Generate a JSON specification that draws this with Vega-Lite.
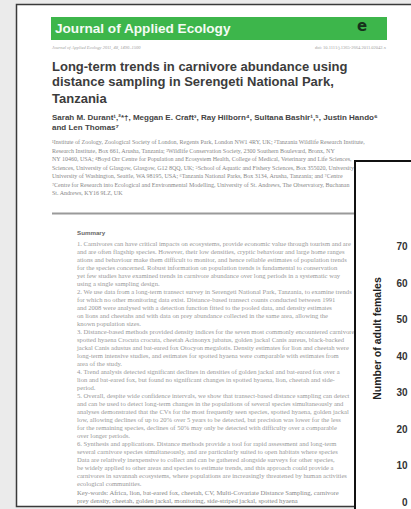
{
  "$schema": "https://vega.github.io/schema/vega-lite/v6.json",
  "width": 411,
  "height": 509,
  "padding": 0,
  "autosize": "none",
  "background": "#ebebeb",
  "config": {"view": {"stroke": null}},
  "datasets": {
    "page": [
      {"kind": "header", "x": 55, "y": 28.5, "text": "Journal of Applied Ecology"},
      {"kind": "logo", "x": 362, "y": 26, "text": "e"},
      {"kind": "subl", "x": 52, "y": 48, "text": "Journal of Applied Ecology 2011, 48, 1490–1500"},
      {"kind": "subr", "x": 386, "y": 48, "text": "doi: 10.1111/j.1365-2664.2011.02042.x"},
      {"kind": "title", "x": 52, "y": 66.7, "text": "Long-term trends in carnivore abundance using"},
      {"kind": "title", "x": 52, "y": 82, "text": "distance sampling in Serengeti National Park,"},
      {"kind": "title", "x": 52, "y": 98.5, "text": "Tanzania"},
      {"kind": "author", "x": 52, "y": 118, "text": "Sarah M. Durant¹,²*†, Meggan E. Craft³, Ray Hilborn⁴, Sultana Bashir¹,⁵, Justin Hando⁶"},
      {"kind": "author", "x": 52, "y": 128, "text": "and Len Thomas⁷"},
      {"kind": "affil", "x": 52, "y": 142, "text": "¹Institute of Zoology, Zoological Society of London, Regents Park, London NW1 4RY, UK; ²Tanzania Wildlife Research Institute,"},
      {"kind": "affil", "x": 52, "y": 150.5, "text": "Research Institute, Box 661, Arusha, Tanzania; ³Wildlife Conservation Society, 2300 Southern Boulevard, Bronx, NY"},
      {"kind": "affil", "x": 52, "y": 159, "text": "NY 10460, USA; ⁴Boyd Orr Centre for Population and Ecosystem Health, College of Medical, Veterinary and Life Sciences,"},
      {"kind": "affil", "x": 52, "y": 167.5, "text": "Sciences, University of Glasgow, Glasgow, G12 8QQ, UK; ⁵School of Aquatic and Fishery Sciences, Box 355020, University"},
      {"kind": "affil", "x": 52, "y": 176, "text": "University of Washington, Seattle, WA 98195, USA; ⁶Tanzania National Parks, Box 3134, Arusha, Tanzania; and ⁷Centre"},
      {"kind": "affil", "x": 52, "y": 184.5, "text": "⁷Centre for Research into Ecological and Environmental Modelling, University of St. Andrews, The Observatory, Buchanan"},
      {"kind": "affil", "x": 52, "y": 193, "text": "St. Andrews, KY16 9LZ, UK"},
      {"kind": "summary", "x": 77, "y": 233, "text": "Summary"},
      {"kind": "body", "x": 77, "y": 244, "text": "1. Carnivores can have critical impacts on ecosystems, provide economic value through tourism and are"},
      {"kind": "body", "x": 77, "y": 252, "text": "and are often flagship species. However, their low densities, cryptic behaviour and large home ranges"},
      {"kind": "body", "x": 77, "y": 260, "text": "ations and behaviour make them difficult to monitor, and hence reliable estimates of population trends"},
      {"kind": "body", "x": 77, "y": 268, "text": "for the species concerned. Robust information on population trends is fundamental to conservation"},
      {"kind": "body", "x": 77, "y": 276, "text": "yet few studies have examined trends in carnivore abundance over long periods in a systematic way"},
      {"kind": "body", "x": 77, "y": 284, "text": "using a single sampling design."},
      {"kind": "body", "x": 77, "y": 292, "text": "2. We use data from a long-term transect survey in Serengeti National Park, Tanzania, to examine trends"},
      {"kind": "body", "x": 77, "y": 300, "text": "for which no other monitoring data exist. Distance-based transect counts conducted between 1991"},
      {"kind": "body", "x": 77, "y": 308, "text": "and 2008 were analysed with a detection function fitted to the pooled data, and density estimates"},
      {"kind": "body", "x": 77, "y": 316, "text": "on lions and cheetahs and with data on prey abundance collected in the same area, allowing the"},
      {"kind": "body", "x": 77, "y": 324, "text": "known population sizes."},
      {"kind": "body", "x": 77, "y": 332, "text": "3. Distance-based methods provided density indices for the seven most commonly encountered carnivore"},
      {"kind": "body", "x": 77, "y": 340, "text": "spotted hyaena Crocuta crocuta, cheetah Acinonyx jubatus, golden jackal Canis aureus, black-backed"},
      {"kind": "body", "x": 77, "y": 348, "text": "jackal Canis adustus and bat-eared fox Otocyon megalotis. Density estimates for lion and cheetah were"},
      {"kind": "body", "x": 77, "y": 356, "text": "long-term intensive studies, and estimates for spotted hyaena were comparable with estimates from"},
      {"kind": "body", "x": 77, "y": 364, "text": "area of the study."},
      {"kind": "body", "x": 77, "y": 372, "text": "4. Trend analysis detected significant declines in densities of golden jackal and bat-eared fox over a"},
      {"kind": "body", "x": 77, "y": 380, "text": "lion and bat-eared fox, but found no significant changes in spotted hyaena, lion, cheetah and side-"},
      {"kind": "body", "x": 77, "y": 388, "text": "period."},
      {"kind": "body", "x": 77, "y": 396, "text": "5. Overall, despite wide confidence intervals, we show that transect-based distance sampling can detect"},
      {"kind": "body", "x": 77, "y": 404, "text": "and can be used to detect long-term changes in the populations of several species simultaneously and"},
      {"kind": "body", "x": 77, "y": 412, "text": "analyses demonstrated that the CVs for the most frequently seen species, spotted hyaena, golden jackal"},
      {"kind": "body", "x": 77, "y": 420, "text": "low, allowing declines of up to 20% over 5 years to be detected, but precision was lower for the less"},
      {"kind": "body", "x": 77, "y": 428, "text": "for the remaining species, declines of 50% may only be detected with difficulty over a comparable"},
      {"kind": "body", "x": 77, "y": 436, "text": "over longer periods."},
      {"kind": "body", "x": 77, "y": 444, "text": "6. Synthesis and applications. Distance methods provide a tool for rapid assessment and long-term"},
      {"kind": "body", "x": 77, "y": 452, "text": "several carnivore species simultaneously, and are particularly suited to open habitats where species"},
      {"kind": "body", "x": 77, "y": 460, "text": "Data are relatively inexpensive to collect and can be gathered alongside surveys for other species,"},
      {"kind": "body", "x": 77, "y": 468, "text": "be widely applied to other areas and species to estimate trends, and this approach could provide a"},
      {"kind": "body", "x": 77, "y": 476, "text": "carnivores in savannah ecosystems, where populations are increasingly threatened by human activities"},
      {"kind": "body", "x": 77, "y": 484, "text": "ecological communities."},
      {"kind": "keywords", "x": 77, "y": 493, "text": "Key-words: Africa, lion, bat-eared fox, cheetah, CV, Multi-Covariate Distance Sampling, carnivore"},
      {"kind": "keywords", "x": 77, "y": 501, "text": "prey density, cheetah, golden jackal, monitoring, side-striped jackal, spotted hyaena"}
    ]
  },
  "resolve": {"scale": {"y": "independent"}},
  "layer": [
    {
      "data": {"values": [{"x": 16.5, "x2": 450, "y": 4.5, "y2": 506.5}]},
      "mark": {"type": "rect", "fill": "#ffffff", "stroke": "#3a3a3a", "strokeWidth": 1.5},
      "encoding": {
        "x": {"field": "x", "type": "quantitative", "scale": {"domain": [0, 411], "nice": false, "zero": false}, "axis": null},
        "x2": {"field": "x2"},
        "y": {"field": "y", "type": "quantitative", "scale": {"domain": [509, 0], "nice": false, "zero": false}, "axis": null},
        "y2": {"field": "y2"}
      }
    },
    {
      "data": {"values": [{"x": 51, "x2": 387, "y": 17, "y2": 40}]},
      "mark": {"type": "rect", "fill": "#3db64b"},
      "encoding": {
        "x": {"field": "x", "type": "quantitative", "scale": {"domain": [0, 411], "nice": false, "zero": false}, "axis": null},
        "x2": {"field": "x2"},
        "y": {"field": "y", "type": "quantitative", "scale": {"domain": [509, 0], "nice": false, "zero": false}, "axis": null},
        "y2": {"field": "y2"}
      }
    },
    {
      "data": {"values": [{"x": 52, "x2": 400, "y": 213.5}]},
      "mark": {"type": "rule", "stroke": "#9a9a9a", "strokeWidth": 2},
      "encoding": {
        "x": {"field": "x", "type": "quantitative", "scale": {"domain": [0, 411], "nice": false, "zero": false}, "axis": null},
        "x2": {"field": "x2"},
        "y": {"field": "y", "type": "quantitative", "scale": {"domain": [509, 0], "nice": false, "zero": false}, "axis": null}
      }
    },
    {
      "data": {"name": "page"},
      "transform": [{"filter": "datum.kind == 'header'"}],
      "mark": {"type": "text", "align": "left", "baseline": "middle", "font": "Liberation Sans", "fontSize": 13.6, "fontWeight": "bold", "fill": "#f4fbf4"},
      "encoding": {
        "x": {"field": "x", "type": "quantitative", "scale": {"domain": [0, 411], "nice": false, "zero": false}, "axis": null},
        "y": {"field": "y", "type": "quantitative", "scale": {"domain": [509, 0], "nice": false, "zero": false}, "axis": null},
        "text": {"field": "text"}
      }
    },
    {
      "data": {"name": "page"},
      "transform": [{"filter": "datum.kind == 'logo'"}],
      "mark": {"type": "text", "align": "center", "baseline": "middle", "font": "DejaVu Sans", "fontSize": 15, "fontWeight": "bold", "fill": "#17301b"},
      "encoding": {
        "x": {"field": "x", "type": "quantitative", "scale": {"domain": [0, 411], "nice": false, "zero": false}, "axis": null},
        "y": {"field": "y", "type": "quantitative", "scale": {"domain": [509, 0], "nice": false, "zero": false}, "axis": null},
        "text": {"field": "text"}
      }
    },
    {
      "data": {"name": "page"},
      "transform": [{"filter": "datum.kind == 'subl'"}],
      "mark": {"type": "text", "align": "left", "baseline": "middle", "font": "Liberation Serif", "fontSize": 4.5, "fontStyle": "italic", "fill": "#a0a0a0"},
      "encoding": {
        "x": {"field": "x", "type": "quantitative", "scale": {"domain": [0, 411], "nice": false, "zero": false}, "axis": null},
        "y": {"field": "y", "type": "quantitative", "scale": {"domain": [509, 0], "nice": false, "zero": false}, "axis": null},
        "text": {"field": "text"}
      }
    },
    {
      "data": {"name": "page"},
      "transform": [{"filter": "datum.kind == 'subr'"}],
      "mark": {"type": "text", "align": "right", "baseline": "middle", "font": "Liberation Serif", "fontSize": 4.5, "fill": "#a0a0a0"},
      "encoding": {
        "x": {"field": "x", "type": "quantitative", "scale": {"domain": [0, 411], "nice": false, "zero": false}, "axis": null},
        "y": {"field": "y", "type": "quantitative", "scale": {"domain": [509, 0], "nice": false, "zero": false}, "axis": null},
        "text": {"field": "text"}
      }
    },
    {
      "data": {"name": "page"},
      "transform": [{"filter": "datum.kind == 'title'"}],
      "mark": {"type": "text", "align": "left", "baseline": "middle", "font": "Liberation Sans", "fontSize": 13, "fontWeight": "bold", "fill": "#3c3c3c"},
      "encoding": {
        "x": {"field": "x", "type": "quantitative", "scale": {"domain": [0, 411], "nice": false, "zero": false}, "axis": null},
        "y": {"field": "y", "type": "quantitative", "scale": {"domain": [509, 0], "nice": false, "zero": false}, "axis": null},
        "text": {"field": "text"}
      }
    },
    {
      "data": {"name": "page"},
      "transform": [{"filter": "datum.kind == 'author'"}],
      "mark": {"type": "text", "align": "left", "baseline": "middle", "font": "Liberation Sans", "fontSize": 8, "fontWeight": "bold", "fill": "#444444"},
      "encoding": {
        "x": {"field": "x", "type": "quantitative", "scale": {"domain": [0, 411], "nice": false, "zero": false}, "axis": null},
        "y": {"field": "y", "type": "quantitative", "scale": {"domain": [509, 0], "nice": false, "zero": false}, "axis": null},
        "text": {"field": "text"}
      }
    },
    {
      "data": {"name": "page"},
      "transform": [{"filter": "datum.kind == 'affil'"}],
      "mark": {"type": "text", "align": "left", "baseline": "middle", "font": "Liberation Serif", "fontSize": 6, "fill": "#888888"},
      "encoding": {
        "x": {"field": "x", "type": "quantitative", "scale": {"domain": [0, 411], "nice": false, "zero": false}, "axis": null},
        "y": {"field": "y", "type": "quantitative", "scale": {"domain": [509, 0], "nice": false, "zero": false}, "axis": null},
        "text": {"field": "text"}
      }
    },
    {
      "data": {"name": "page"},
      "transform": [{"filter": "datum.kind == 'summary'"}],
      "mark": {"type": "text", "align": "left", "baseline": "middle", "font": "Liberation Sans", "fontSize": 6.2, "fontWeight": "bold", "fill": "#666666"},
      "encoding": {
        "x": {"field": "x", "type": "quantitative", "scale": {"domain": [0, 411], "nice": false, "zero": false}, "axis": null},
        "y": {"field": "y", "type": "quantitative", "scale": {"domain": [509, 0], "nice": false, "zero": false}, "axis": null},
        "text": {"field": "text"}
      }
    },
    {
      "data": {"name": "page"},
      "transform": [{"filter": "datum.kind == 'body'"}],
      "mark": {"type": "text", "align": "left", "baseline": "middle", "font": "Liberation Serif", "fontSize": 6.6, "fill": "#999999"},
      "encoding": {
        "x": {"field": "x", "type": "quantitative", "scale": {"domain": [0, 411], "nice": false, "zero": false}, "axis": null},
        "y": {"field": "y", "type": "quantitative", "scale": {"domain": [509, 0], "nice": false, "zero": false}, "axis": null},
        "text": {"field": "text"}
      }
    },
    {
      "data": {"name": "page"},
      "transform": [{"filter": "datum.kind == 'keywords'"}],
      "mark": {"type": "text", "align": "left", "baseline": "middle", "font": "Liberation Serif", "fontSize": 6.6, "fill": "#888888"},
      "encoding": {
        "x": {"field": "x", "type": "quantitative", "scale": {"domain": [0, 411], "nice": false, "zero": false}, "axis": null},
        "y": {"field": "y", "type": "quantitative", "scale": {"domain": [509, 0], "nice": false, "zero": false}, "axis": null},
        "text": {"field": "text"}
      }
    },
    {
      "data": {"values": [{"x": 355, "x2": 450, "y": 161, "y2": 540}]},
      "mark": {"type": "rect", "fill": "#ffffff", "stroke": "#111111", "strokeWidth": 2},
      "encoding": {
        "x": {"field": "x", "type": "quantitative", "scale": {"domain": [0, 411], "nice": false, "zero": false}, "axis": null},
        "x2": {"field": "x2"},
        "y": {"field": "y", "type": "quantitative", "scale": {"domain": [509, 0], "nice": false, "zero": false}, "axis": null},
        "y2": {"field": "y2"}
      }
    },
    {
      "data": {"values": [{"females": 0}, {"females": 10}, {"females": 20}, {"females": 30}, {"females": 40}, {"females": 50}, {"females": 60}, {"females": 70}]},
      "mark": {"type": "tick", "opacity": 0},
      "encoding": {
        "y": {
          "field": "females",
          "type": "quantitative",
          "scale": {"domain": [-1.86, 137.59], "nice": false, "zero": false},
          "axis": {
            "orient": "left",
            "offset": -412,
            "zindex": 2,
            "values": [0, 10, 20, 30, 40, 50, 60, 70],
            "domain": false,
            "ticks": false,
            "tickSize": 0,
            "grid": false,
            "labelPadding": 5,
            "labelFont": "Liberation Sans",
            "labelFontSize": 10,
            "labelFontWeight": "bold",
            "labelColor": "#333333",
            "title": "Number of adult females",
            "titleFont": "Liberation Sans",
            "titleFontSize": 10.5,
            "titleFontWeight": "bold",
            "titleColor": "#222222",
            "titleAngle": -90,
            "titleX": -35,
            "titleY": 338,
            "titleAlign": "center",
            "titleBaseline": "middle"
          }
        }
      }
    }
  ]
}
